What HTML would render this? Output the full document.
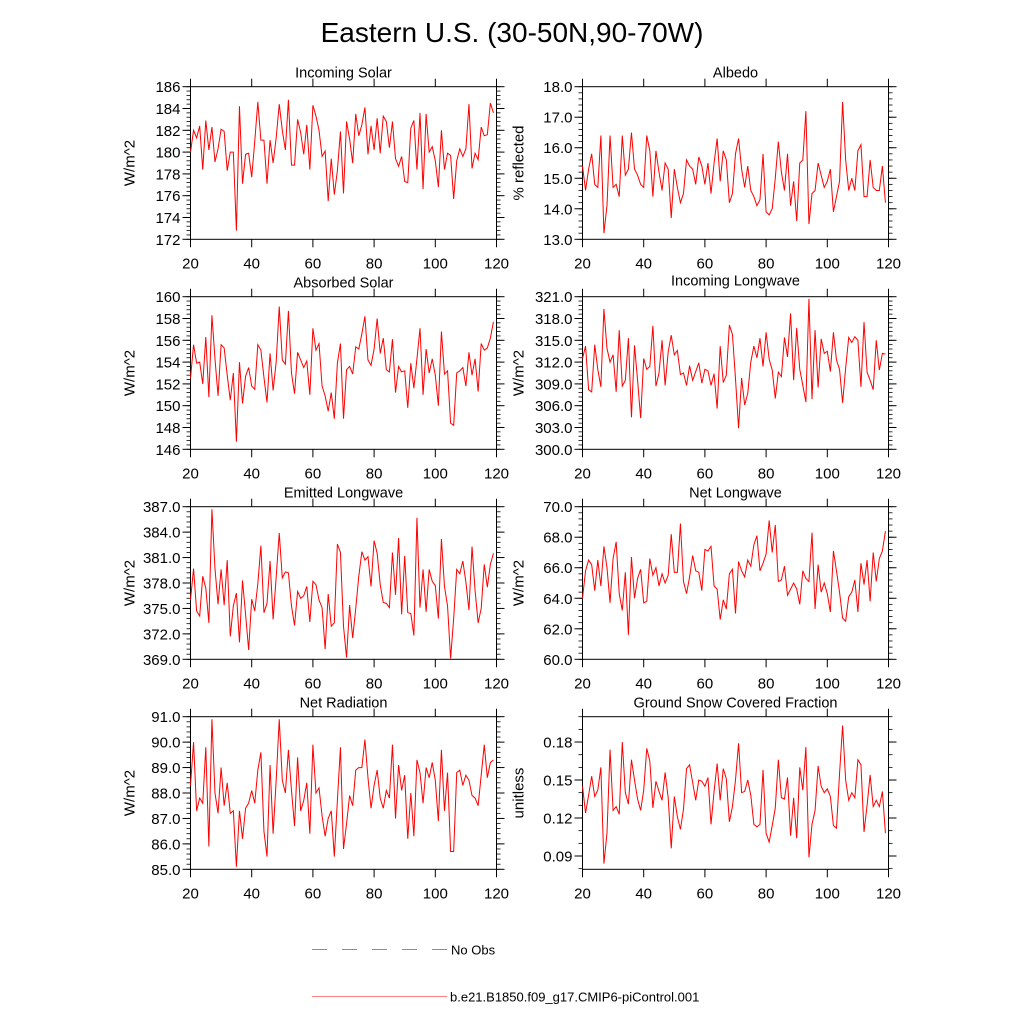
<!DOCTYPE html>
<html><head><meta charset="utf-8"><style>
html,body{margin:0;padding:0;background:#fff;}
svg{display:block;font-family:"Liberation Sans",Arial,sans-serif;}
</style></head><body>
<svg id="chart" width="1024" height="1024" viewBox="0 0 1024 1024" xmlns="http://www.w3.org/2000/svg">
<rect x="0" y="0" width="1024" height="1024" fill="#fff"/>
<text x="512" y="42" font-size="28" text-anchor="middle" fill="#000">Eastern U.S. (30-50N,90-70W)</text>
<g>
<line x1="312" y1="949.5" x2="447" y2="949.5" stroke="#8080ff" stroke-width="1" stroke-dasharray="15,15"/>
<text x="451" y="954.5" font-size="13" fill="#000">No Obs</text>
<line x1="312" y1="996.5" x2="447" y2="996.5" stroke="#ff8080" stroke-width="1"/>
<text x="450" y="1001.5" font-size="13" fill="#000">b.e21.B1850.f09_g17.CMIP6-piControl.001</text>
</g>
</svg>
<script>
const years = [];
for (let y = 20; y <= 119; y++) years.push(y);
const xTicks = [20, 40, 60, 80, 100, 120];

const incomingSolar = [180,182,181.3,182.4,178.4,182.9,180.2,182.3,179.1,180.3,182.1,181.9,178.3,180,180,172.8,184.2,177.1,179.8,179.9,177.7,181,184.6,181.1,181.1,177.1,181.1,179,181.3,184.4,182,180.2,184.8,178.8,178.8,183,181.8,179.8,182.5,178.4,184.3,183.3,182,179.6,180.1,175.5,179.4,176.1,178.3,181.9,176.2,182.8,181.2,179,183.5,181.5,182.5,184.1,179.8,182.4,180.2,183.1,179.9,183.3,182.8,180.4,182.8,179.4,178.7,179.6,177.3,177.2,182.2,182.9,178.4,183.6,176.6,183.5,180,180.5,179.2,176.8,182,178.4,179.9,179.7,175.7,179.2,180.3,179.6,180.3,184.4,178.5,179.9,179.3,182.3,181.5,181.6,184.5,183.6];
const albedo = [15.4,14.6,15.3,15.8,14.8,14.7,16.4,13.2,14.1,16.4,14.7,14.8,14.4,16.4,15.1,15.3,16.5,15.3,15.1,14.8,14.7,16.4,15.9,14.4,15.9,15.2,14.6,15.5,15.3,13.7,15.3,14.7,14.2,14.5,15.6,15.4,15.3,14.8,15.7,15.4,14.8,15.5,14.5,15.5,16.3,14.9,15.9,15.6,14.2,14.5,15.8,16.3,15.3,14.7,15.4,14.6,14.4,14.1,14.3,15.8,13.9,13.8,14,15,16.2,15.2,14.6,15.8,14.1,14.9,13.6,15.5,15.6,17.2,13.5,14.5,14.6,15.5,15.1,14.7,14.9,15.3,13.9,14.4,14.9,17.5,15.6,14.6,15,14.6,15.9,16.1,14.4,14.4,15.6,14.7,14.6,14.6,15.4,14.2];
const absorbedSolar = [152.5,155.6,153.9,154,152,156.3,150.8,158.3,154.3,150.9,155.6,155.3,152.8,150.5,153,146.7,154,150.2,152.7,153.5,151.8,151.5,155.6,155.1,152.6,150.3,154.8,151.4,154,159.1,154.2,153.8,158.7,153,151.1,154.9,154.2,153.5,154.1,151,157.1,155.1,155.7,151.8,150.9,149.5,151.2,148.8,153.9,155.7,148.8,153.3,153.6,152.9,155.4,155.2,156.6,158.2,154.2,153.7,155.2,158,154.8,156.2,153.3,153.1,156.1,151.2,153.6,153.1,153.2,149.8,153.9,151.6,154.3,157.1,151,155.2,153,154.3,152.8,150,156.8,152.9,153.2,148.4,148.2,153,153.2,153.5,151.8,154.9,152.8,154.3,151.3,155.7,155.1,155.3,156.2,157.7];
const incomingLW = [312.5,314.2,308.2,307.9,314.4,311,308.6,319.3,313.9,312,313,307.9,316.4,308.7,309.5,315.3,304.4,314.3,309.5,304.3,312.5,311,311.4,317,308.7,310.5,315,308.8,313.4,315.7,313,313.6,310.3,310.5,308.8,311.5,309.5,310.7,311.9,309.1,311,310.8,308.8,310.4,305.6,314.2,309.2,310.2,317.1,315.8,309.7,302.9,309.8,306.1,307.7,312,314.2,312.6,315.3,311.4,316.1,312.4,310.9,307,310.6,310,315.4,312.7,318.7,309.5,316.7,311,308.8,306.5,320.7,306.9,316.4,308.5,315.2,313.2,313.5,310.7,316.1,312.3,311,306.4,311.2,315.4,314.7,315.5,315,308.6,317.5,310.6,309.5,308.2,315,310.9,313.2,313.1];
const emittedLW = [376,379.7,374.7,374.1,378.8,377.4,373.3,386.7,379.7,375.5,379.6,375.4,380.7,371.7,375.3,376.8,371,378.3,374.3,370.1,376.1,374.7,377.9,382.4,374.5,375.6,380.6,373.7,378.7,383.9,378.6,379.3,379.2,375.3,373,377,376.2,376.5,377.6,373.4,378.2,377.8,376,375.1,370.2,376.7,372.9,373.3,382.6,381.6,372.9,369.2,375.4,371.5,375,378.8,381.7,380.7,381.1,377.6,383,381.5,377.8,375.7,375.6,375.1,381.6,376.6,383.3,374.3,381.2,374.5,374.4,371.8,385.7,375.1,379.6,374.6,379.6,378.2,377.7,373.8,383.2,377.6,375.3,369.1,373.8,379.6,379.1,380.6,378.1,374.8,382.3,377.1,373.3,375,380.2,377.5,380.2,381.5];
const netLW = [64,65.8,66.5,66.2,64.5,66.5,64.8,67.4,66,63.7,66.6,67.7,64.3,63.2,65.7,61.6,66.7,64,65.3,65.9,63.7,63.8,66.6,65.5,66,64.8,65.6,65,65.5,68.2,65.7,65.7,68.9,65.1,64.3,65.4,66.8,65.8,65.7,64.5,67.2,67.1,67.4,64.8,64.6,62.6,63.9,63.3,65.6,65.9,63,66.4,65.8,65.4,66.5,66.1,67.5,68.1,65.8,66.3,66.9,69.1,67,68.8,65.1,65.2,66.1,64.2,64.6,65,64.6,63.6,65.8,65.3,65.1,68.3,63.3,66.2,64.4,65,64.3,63.1,67.1,65.8,64.4,62.7,62.5,64.1,64.4,65.2,63.1,66.3,64.9,66.5,63.8,67,65.1,66.6,67.1,68.4];
const netRad = [88.3,90,87.3,87.8,87.6,89.8,85.9,90.9,88,87.2,89,87.5,88.4,87.2,87.3,85.1,87.3,86.2,87.4,87.6,88.1,87.6,88.9,89.6,86.5,85.5,89.1,86.4,88.5,90.9,88.5,88,89.7,88.1,86.7,89.4,87.3,87.7,88.4,86.4,89.9,88,88.2,87.1,86.3,87,87.3,85.5,87.7,89.8,85.8,86.8,87.9,87.5,88.9,89,89,90.1,88.6,87.4,88.3,88.9,87.8,87.4,88.1,87.8,89.9,87,89.1,88.1,88.7,86.2,88,86.3,89.3,88.8,87.6,89,88.6,89.2,88.5,86.9,89.7,87.3,88.8,85.7,85.7,88.8,88.9,88.3,88.7,88.5,87.9,87.8,87.5,88.7,89.9,88.6,89.2,89.3];
const snowFrac = [0.145,0.124,0.138,0.153,0.137,0.142,0.160,0.084,0.108,0.174,0.126,0.129,0.123,0.180,0.140,0.131,0.166,0.150,0.135,0.126,0.142,0.175,0.165,0.128,0.149,0.141,0.134,0.156,0.136,0.096,0.137,0.121,0.111,0.127,0.159,0.162,0.148,0.134,0.150,0.149,0.145,0.152,0.115,0.141,0.163,0.134,0.159,0.151,0.117,0.129,0.150,0.179,0.140,0.141,0.150,0.138,0.115,0.113,0.115,0.158,0.108,0.101,0.114,0.128,0.166,0.136,0.135,0.152,0.106,0.136,0.104,0.160,0.142,0.176,0.089,0.115,0.126,0.161,0.145,0.140,0.143,0.137,0.114,0.112,0.155,0.193,0.150,0.134,0.140,0.136,0.166,0.162,0.109,0.130,0.154,0.129,0.134,0.129,0.141,0.108];

const ticksIS = ["172","174","176","178","180","182","184","186"];
const ticksAlb = ["13.0","14.0","15.0","16.0","17.0","18.0"];
const ticksAbs = ["146","148","150","152","154","156","158","160"];
const ticksILW = ["300.0","303.0","306.0","309.0","312.0","315.0","318.0","321.0"];
const ticksELW = ["369.0","372.0","375.0","378.0","381.0","384.0","387.0"];
const ticksNLW = ["60.0","62.0","64.0","66.0","68.0","70.0"];
const ticksNR = ["85.0","86.0","87.0","88.0","89.0","90.0","91.0"];
const ticksSnow = ["0.09","0.12","0.15","0.18"];

const NS = "http://www.w3.org/2000/svg";
const svg = document.getElementById("chart");
function mk(tag, attrs, parent) {
  const e = document.createElementNS(NS, tag);
  for (const k in attrs) e.setAttribute(k, attrs[k]);
  parent.appendChild(e);
  return e;
}

const panels = [
  {name:"incoming-solar", title:"Incoming Solar", ylab:"W/m^2", data:incomingSolar, ticks:ticksIS, ymin:172, ymax:186, minor:0.4, col:0, row:0},
  {name:"albedo", title:"Albedo", ylab:"% reflected", data:albedo, ticks:ticksAlb, ymin:13, ymax:18, minor:0.2, col:1, row:0},
  {name:"absorbed-solar", title:"Absorbed Solar", ylab:"W/m^2", data:absorbedSolar, ticks:ticksAbs, ymin:146, ymax:160, minor:0.4, col:0, row:1},
  {name:"incoming-longwave", title:"Incoming Longwave", ylab:"W/m^2", data:incomingLW, ticks:ticksILW, ymin:300, ymax:321, minor:0.6, col:1, row:1, titleDy:-2},
  {name:"emitted-longwave", title:"Emitted Longwave", ylab:"W/m^2", data:emittedLW, ticks:ticksELW, ymin:369, ymax:387, minor:0.6, col:0, row:2},
  {name:"net-longwave", title:"Net Longwave", ylab:"W/m^2", data:netLW, ticks:ticksNLW, ymin:60, ymax:70, minor:0.4, col:1, row:2},
  {name:"net-radiation", title:"Net Radiation", ylab:"W/m^2", data:netRad, ticks:ticksNR, ymin:85, ymax:91, minor:0.2, col:0, row:3},
  {name:"ground-snow", title:"Ground Snow Covered Fraction", ylab:"unitless", data:snowFrac, ticks:ticksSnow, ymin:0.0795, ymax:0.2, minor:0.01, col:1, row:3}
];
const lefts = [190.5, 582.5];
const tops = [86.7, 296.7, 506.7, 716.7];
const W = 306, H = 152.6;

panels.forEach(p => {
  const x0 = lefts[p.col], y0 = tops[p.row];
  const g = mk("g", {}, svg);
  
  
  const sx = v => x0 + (v - 20) / 100 * W;
  const sy = v => y0 + H - (v - p.ymin) / (p.ymax - p.ymin) * H;
  // title
  const t = mk("text", {x: x0 + W/2, y: y0 - 9 + (p.titleDy||0), "font-size": 14.5, "text-anchor": "middle", fill: "#000"}, g);
  
  
  t.textContent = p.title;
  // y label
  const ylx = p.col === 0 ? x0 - 56 : x0 - 59;
  const yl = mk("text", {x: ylx, y: y0 + H/2, "font-size": 15, "text-anchor": "middle", transform: `rotate(-90 ${ylx} ${y0 + H/2})`, fill: "#000"}, g);
  
  
  yl.textContent = p.ylab;
  // minor y ticks
  const steps = Math.round((p.ymax - p.ymin) / p.minor + 1);
  const start = Math.ceil(p.ymin / p.minor - 1e-6) * p.minor;
  for (let v = start; v <= p.ymax + 1e-9; v += p.minor) {
    const yy = sy(v);
    mk("line", {x1: x0 - 4, x2: x0, y1: yy, y2: yy, stroke: "#000", "stroke-width": 0.8}, g);
    mk("line", {x1: x0 + W, x2: x0 + W + 4, y1: yy, y2: yy, stroke: "#000", "stroke-width": 0.8}, g);
  }
  // major y ticks + labels
  p.ticks.forEach(lbl => {
    const yy = sy(parseFloat(lbl));
    mk("line", {x1: x0 - 8, x2: x0, y1: yy, y2: yy, stroke: "#000", "stroke-width": 1}, g);
    mk("line", {x1: x0 + W, x2: x0 + W + 8, y1: yy, y2: yy, stroke: "#000", "stroke-width": 1}, g);
    const tl = mk("text", {x: x0 - 10, y: yy + 5.5, "font-size": 15, "text-anchor": "end", fill: "#000"}, g);
    
    
    tl.textContent = lbl;
  });
  // x ticks
  xTicks.forEach(v => {
    const xx = sx(v);
    mk("line", {x1: xx, x2: xx, y1: y0 + H, y2: y0 + H + 8, stroke: "#000", "stroke-width": 1}, g);
    mk("line", {x1: xx, x2: xx, y1: y0 - 8, y2: y0, stroke: "#000", "stroke-width": 1}, g);
    const xl = mk("text", {x: xx, y: y0 + H + 29, "font-size": 15, "text-anchor": "middle", fill: "#000"}, g);
    
    
    xl.textContent = String(v);
  });
  // frame
  const fr = mk("rect", {x: x0, y: y0, width: W, height: H, fill: "none", stroke: "#000", "stroke-width": 1}, g);
  
  
  // series
  const pts = p.data.map((v, i) => sx(years[i]).toFixed(2) + "," + sy(v).toFixed(2)).join(" ");
  const pl = mk("polyline", {points: pts, fill: "none", stroke: "#ff0000", "stroke-width": 1}, g);
  
  
});
</script>
</body></html>
